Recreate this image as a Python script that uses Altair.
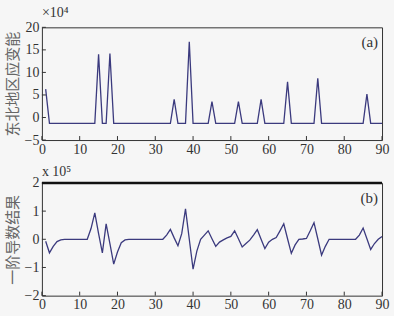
import altair as alt
import pandas as pd

x_vals = list(range(1, 91))

# 东北地区应变能 (×10^4)
energy = [6.3,
          -1.3, -1.3, -1.3, -1.3, -1.3, -1.3, -1.3, -1.3, -1.3, -1.3, -1.3, -1.3, -1.3,
          14.0, -1.3, -1.3, 14.2,
          -1.3, -1.3, -1.3, -1.3, -1.3, -1.3, -1.3, -1.3, -1.3, -1.3, -1.3, -1.3, -1.3, -1.3, -1.3, -1.3,
          4.0, -1.3, -1.3, -1.3, 16.8,
          -1.3, -1.3, -1.3, -1.3, -1.3, 3.5,
          -1.3, -1.3, -1.3, -1.3, -1.3, -1.3, 3.5,
          -1.3, -1.3, -1.3, -1.3, -1.3, 4.0,
          -1.3, -1.3, -1.3, -1.3, -1.3, -1.3, 7.9,
          -1.3, -1.3, -1.3, -1.3, -1.3, -1.3, -1.3, 8.7,
          -1.3, -1.3, -1.3, -1.3, -1.3, -1.3, -1.3, -1.3, -1.3, -1.3, -1.3, -1.3, 5.2,
          -1.3, -1.3, -1.3, -1.3]

# 一阶导数结果 (×10^5)
deriv = [-0.07, -0.48, -0.25, -0.08, -0.02,
         0, 0, 0, 0, 0, 0, 0,
         0.38, 0.94, 0.2, -0.48, 0.55, -0.15, -0.88, -0.45, -0.12, -0.02,
         0, 0, 0, 0, 0, 0, 0, 0, 0, 0,
         0.15, 0.35, 0.05, -0.23, 0.2, 1.08, 0.0, -1.06, -0.42, 0.0,
         0.15, 0.3, 0.02, -0.25, -0.1, -0.02, 0.05, 0.1, 0.3, 0.02,
         -0.27, -0.15, -0.03, 0.15, 0.34, 0.0, -0.33, -0.1, 0.0, 0.06,
         0.3, 0.55, 0.02, -0.5, -0.2, 0.0, 0.01, 0.03, 0.3, 0.59,
         0.02, -0.56, -0.25, 0.0,
         0, 0, 0, 0, 0, 0, 0,
         0.15, 0.4, 0.02, -0.36, -0.15, 0.0, 0.1]

x_ticks = [0, 10, 20, 30, 40, 50, 60, 70, 80, 90]
top_y_ticks = [-5, 0, 5, 10, 15, 20]
bot_y_ticks = [-2, -1, 0, 1, 2]

W, H = 341, 113
SERIF = "Liberation Serif"
CJK = "Noto Sans CJK SC"
LINE = "#3b3a7e"
BG = "#f6f6f6"


def panel(values, ydom, yticks, ytitle, label, title_text, title_offset, thick_top=False):
    df = pd.DataFrame({"x": x_vals, "y": values})
    xs = alt.Scale(domain=[0, 90], nice=False, zero=False)
    ys = alt.Scale(domain=ydom, nice=False, zero=False)
    xaxis = alt.Axis(values=x_ticks, title=None, ticks=False, domain=False, grid=False,
                     labelFont=SERIF, labelFontSize=14, labelColor="#333",
                     labelPadding=2, labelFlush=False)
    yaxis = alt.Axis(values=yticks, title=ytitle, ticks=False, domain=False, grid=False,
                     labelFont=SERIF, labelFontSize=14, labelColor="#333", labelPadding=3,
                     labelFlush=False,
                     titleFont=CJK, titleFontSize=15, titleColor="#666",
                     titleFontWeight="normal", titleX=-29, titleY=H / 2,
                     titleAngle=270, titleAlign="center", titleBaseline="middle")
    line = alt.Chart(df).mark_line(color=LINE, strokeWidth=1.3).encode(
        x=alt.X("x:Q", scale=xs, axis=xaxis),
        y=alt.Y("y:Q", scale=ys, axis=yaxis),
    )
    yt = alt.Chart(pd.DataFrame({"y": yticks})).mark_rule(color="#333", strokeWidth=1).encode(
        y=alt.Y("y:Q", scale=ys, axis=yaxis), x=alt.value(0), x2=alt.value(4))
    xt = alt.Chart(pd.DataFrame({"x": x_ticks})).mark_rule(color="#333", strokeWidth=1).encode(
        x=alt.X("x:Q", scale=xs, axis=xaxis), y=alt.value(H), y2=alt.value(H - 4))
    txt = alt.Chart(pd.DataFrame({"t": [label]})).mark_text(
        font=SERIF, fontSize=15, color="#333", align="right", baseline="middle").encode(
        text="t:N", x=alt.value(W - 4), y=alt.value(15))
    layers = [line, yt, xt, txt]
    if thick_top:
        layers.append(alt.Chart(pd.DataFrame({"t": [0]})).mark_rule(color="#111", strokeWidth=2.5).encode(
            x=alt.value(0), x2=alt.value(W), y=alt.value(0)))
    return alt.layer(*layers).properties(
        width=W, height=H,
        title=alt.TitleParams(text=title_text, anchor="start", font=SERIF, fontSize=14,
                              fontWeight="normal", color="#333", offset=title_offset, frame="group"))


top = panel(energy, [-5, 20], top_y_ticks, "东北地区应变能", "(a)", "×10⁴", 0)
bottom = panel(deriv, [-2, 2], bot_y_ticks, "一阶导数结果", "(b)", "x 10⁵", -3, thick_top=True)

chart = alt.vconcat(top, bottom, spacing=43, bounds="flush").properties(
    background=BG,
    padding={"left": 5, "top": 5, "right": 4, "bottom": 3},
).configure_view(stroke="#333", strokeWidth=1, fill=BG)

chart.save("out.html", embed_options={"renderer": "svg", "actions": False})
